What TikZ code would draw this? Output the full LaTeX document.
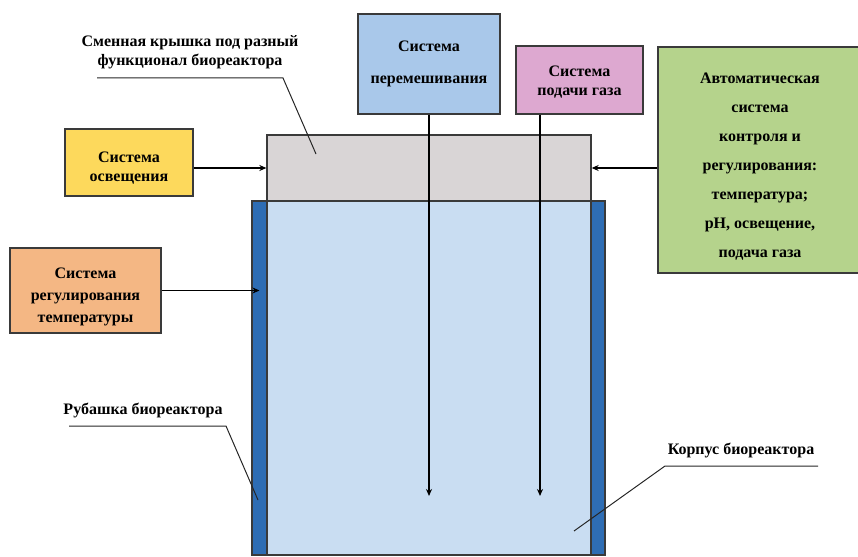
\documentclass[tikz,border=0pt]{standalone}
\usepackage{fontspec}
\setmainfont{Liberation Serif}
\usetikzlibrary{arrows.meta, positioning}

\definecolor{boxline}{HTML}{3A3A3A}
\definecolor{lidgray}{HTML}{D9D5D6}
\definecolor{bodyblue}{HTML}{C9DDF2}
\definecolor{jacketblue}{HTML}{2E6DB4}
\definecolor{mixblue}{HTML}{A9C8EA}
\definecolor{gaspink}{HTML}{DDA8D0}
\definecolor{ctrlgreen}{HTML}{B5D38C}
\definecolor{lightyellow}{HTML}{FDD95C}
\definecolor{tempor}{HTML}{F4B784}

% strut that pushes a box text down a little
\newcommand{\toppad}[1]{\rule{0pt}{#1}}

\begin{document}
\begin{tikzpicture}[x=1pt, y=-1pt,
    font=\bfseries\fontsize{16}{19}\selectfont,
    unit/.style={rectangle, draw=boxline, line width=1.3pt, inner sep=0pt, align=center},
    arrow/.style={-{Stealth[length=7pt, width=6pt]}, line width=1.4pt},
    leader/.style={line width=1pt, draw=black!85},
    caption/.style={align=center, inner sep=0pt}]

    \useasboundingbox (0,0) rectangle (858,556);
    \clip (0,0) rectangle (858,556);

    % Reactor
    \node[unit, fill=bodyblue, minimum width=324pt, minimum height=354pt] (body) at (429,378) {};
    \node[unit, fill=jacketblue, minimum width=15pt, minimum height=354pt] (jacketL) at (259.5,378) {};
    \node[unit, fill=jacketblue, minimum width=14pt, minimum height=354pt] (jacketR) at (598,378) {};
    \node[unit, fill=lidgray, minimum width=324pt, minimum height=66pt] (lid) at (429,168) {};

    % Systems
    \node[unit, fill=mixblue, minimum width=142pt, minimum height=100pt] (mixing) at (429,64)
        {Система\\[13pt]перемешивания};
    \node[unit, fill=gaspink, minimum width=127pt, minimum height=68pt] (gas) at (579.5,80)
        {\toppad{15pt}Система\\подачи газа};
    \node[unit, fill=ctrlgreen, minimum width=204pt, minimum height=226pt] (control) at (760,160)
        {\toppad{23pt}Автоматическая\\[10pt]система\\[10pt]контроля и\\[10pt]регулирования:\\[10pt]температура;\\[10pt]pH, освещение,\\[10pt]подача газа};
    \node[unit, fill=lightyellow, minimum width=128pt, minimum height=67pt] (light) at (129,162.5)
        {\toppad{21pt}Система\\освещения};
    \node[unit, fill=tempor, minimum width=151pt, minimum height=85pt] (temp) at (85.5,290.5)
        {\toppad{23pt}Система\\[3pt]регулирования\\[3pt]температуры};

    % Arrows
    \coordinate (mixend) at (429,496);
    \coordinate (gasend) at (540,496);
    \draw[arrow] (mixing.south) -- (mixend);
    \draw[arrow] (gas.south -| gasend) -- (gasend);
    \draw[arrow] (light.east |- lid.west) -- (lid.west);
    \draw[arrow] (control.west |- lid.east) -- (lid.east);
    \draw[arrow] (temp.east) -- (temp.east -| jacketL.center);

    % Labels
    \node[caption] (lidlabel) at (190,52) {Сменная крышка под разный\\функционал биореактора};
    \coordinate (lidA) at (97,78);
    \coordinate (lidB) at (283,78);
    \coordinate (lidtip) at (316,154);
    \draw[leader] (lidA) -- (lidB) -- (lidtip);

    \node[caption] (jacketlabel) at (143,410) {Рубашка биореактора};
    \coordinate (jacA) at (69,426);
    \coordinate (jacB) at (226,426);
    \coordinate (jactip) at (258,500);
    \draw[leader] (jacA) -- (jacB) -- (jactip);

    \node[caption] (bodylabel) at (741,450) {Корпус биореактора};
    \coordinate (bodA) at (818,466);
    \coordinate (bodB) at (665,466);
    \coordinate (bodtip) at (574,531);
    \draw[leader] (bodA) -- (bodB) -- (bodtip);
\end{tikzpicture}
\end{document}
